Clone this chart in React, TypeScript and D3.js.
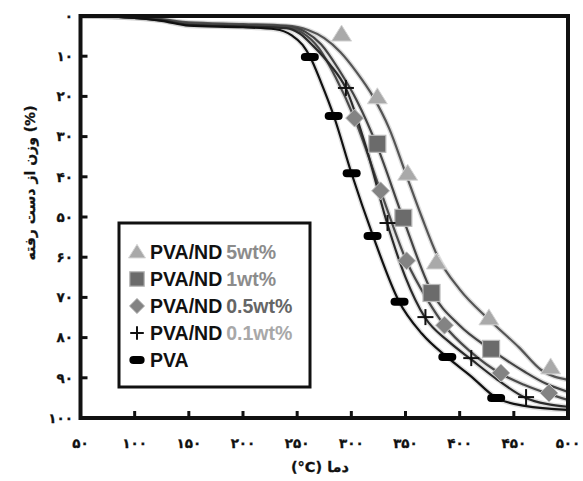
import React from 'react';
import * as d3 from 'd3';

type P = [number, number];

const xTicks = [50, 100, 150, 200, 250, 300, 350, 400, 450, 500];
const yTicks = [0, 10, 20, 30, 40, 50, 60, 70, 80, 90, 100];

const nd5Line: P[] = [[50,0],[100,0.3],[125,0.8],[150,1.6],[200,2],[240,2.4],[260,3.5],[275,5.5],[290,9],[305,14],[320,20],[335,28],[350,39],[365,50],[380,60],[400,68],[427,75.5],[455,82.5],[475,88],[500,90.5]];
const nd5Marks: P[] = [[291,4.5],[324,20.1],[352,39.1],[378.5,61.2],[427,75.1],[484,87.3]];

const nd1Line: P[] = [[50,0],[100,0.3],[125,0.9],[150,1.8],[200,2.2],[240,2.6],[258,4],[272,7],[290,14],[305,21],[324,32.5],[348,50.5],[374,68.5],[400,77],[429,83],[460,88.5],[480,91.5],[500,93.5]];
const nd1Marks: P[] = [[324,31.8],[348,50.2],[374,68.9],[429,82.8]];

const nd05Line: P[] = [[50,0],[100,0.4],[125,1],[150,2],[200,2.4],[240,2.8],[255,4.2],[270,8],[285,15],[303,25.5],[327,43.5],[351,61],[370,70.5],[386,77],[410,83.5],[438,89],[460,91.8],[482,94],[500,95.5]];
const nd05Marks: P[] = [[303,25.4],[327,43.5],[351,60.9],[386,76.9],[438,88.8],[482.5,93.8]];

const nd01Line: P[] = [[50,0],[100,0.5],[125,1.1],[150,2.2],[200,2.6],[240,3],[252,4.3],[265,7.5],[280,12],[295,18],[314,33],[333,51.5],[350,65],[368,75],[390,81],[411,85.5],[435,90.5],[461,95],[480,96.5],[500,97.2]];
const nd01Marks: P[] = [[295,17.9],[333.4,51.5],[368.4,74.9],[410.7,85.1],[461.3,94.8]];

const pvaLine: P[] = [[50,0],[100,0.5],[125,1.2],[150,2.4],[200,2.8],[230,3.3],[245,4.8],[255,7.2],[262,10.2],[272,16.5],[284,25],[300,39],[320,54.7],[344,71],[365,79],[389,85],[410,89.5],[434,95],[460,97],[500,98]];
const pvaMarks: P[] = [[261.7,10.2],[283.7,24.9],[300.3,39.1],[319.6,54.7],[344.5,71.1],[388.6,84.8],[433.7,95]];

const legendNames = ['PVA/ND', 'PVA/ND', 'PVA/ND', 'PVA/ND', 'PVA'];
const legendSuffix = ['5wt%', '1wt%', '0.5wt%', '0.1wt%', ''];

const xLabel = '(°C) دما';
const yLabel = 'وزن از دست رفته (%)';

const fa = (n: number) => String(n).replace(/\d/g, (d) => '۰۱۲۳۴۵۶۷۸۹'[+d]);

type Shape = 'triangle' | 'square' | 'diamond' | 'plus' | 'dash';

const series: { line: P[]; marks: P[]; shape: Shape; stroke: string; suffixColor: string }[] = [
  { line: nd5Line, marks: nd5Marks, shape: 'triangle', stroke: '#555', suffixColor: '#8c8c8c' },
  { line: nd1Line, marks: nd1Marks, shape: 'square', stroke: '#444', suffixColor: '#8c8c8c' },
  { line: nd05Line, marks: nd05Marks, shape: 'diamond', stroke: '#4a4a4a', suffixColor: '#666' },
  { line: nd01Line, marks: nd01Marks, shape: 'plus', stroke: '#2a2a2a', suffixColor: '#a8a8a8' },
  { line: pvaLine, marks: pvaMarks, shape: 'dash', stroke: '#111', suffixColor: '#000' },
];

function Marker({ shape, cx, cy, s = 1 }: { shape: Shape; cx: number; cy: number; s?: number }) {
  if (shape === 'triangle') {
    return <path d={`M${cx},${cy - 9 * s}L${cx + 10 * s},${cy + 7 * s}L${cx - 10 * s},${cy + 7 * s}Z`} fill="#a9a9a9" stroke="#d6d6d6" strokeWidth={1} />;
  }
  if (shape === 'square') {
    const h = 8.5 * s;
    return <rect x={cx - h} y={cy - h} width={2 * h} height={2 * h} fill="#6b6b6b" stroke="#b8b8b8" strokeWidth={1.2} />;
  }
  if (shape === 'diamond') {
    const h = 9 * s;
    return <path d={`M${cx},${cy - h}L${cx + h},${cy}L${cx},${cy + h}L${cx - h},${cy}Z`} fill="#838383" stroke="#c4c4c4" strokeWidth={1} />;
  }
  if (shape === 'plus') {
    const h = 8 * s;
    return (
      <g stroke="#111" strokeWidth={2}>
        <line x1={cx - h} x2={cx + h} y1={cy} y2={cy} />
        <line x1={cx} x2={cx} y1={cy - h} y2={cy + h} />
      </g>
    );
  }
  return <rect x={cx - 9 * s} y={cy - 4} width={18 * s} height={8} rx={4} fill="#000" />;
}

export default function App() {
  const x = d3.scaleLinear().domain([50, 500]).range([80.5, 568]);
  const y = d3.scaleLinear().domain([0, 100]).range([16, 418]);
  const line = d3
    .line<P>()
    .x((d) => x(d[0]))
    .y((d) => y(d[1]))
    .curve(d3.curveMonotoneX);

  const [x0, x1] = x.range();
  const [y0, y1] = y.range();

  return (
    <svg width={583} height={481} style={{ position: 'absolute', left: 0, top: 0, background: '#fff' }}>
      <defs>
        <clipPath id="plot">
          <rect x={x0} y={y0} width={x1 - x0} height={y1 - y0} />
        </clipPath>
      </defs>
      <rect width={583} height={481} fill="#fff" />
      <g clipPath="url(#plot)">
        {series.map((s, i) => (
          <path key={'h' + i} d={line(s.line) || ''} fill="none" stroke="#c4c4c4" strokeWidth={5} opacity={0.55} />
        ))}
        {series.map((s, i) => (
          <path key={'l' + i} d={line(s.line) || ''} fill="none" stroke={s.stroke} strokeWidth={2.2} />
        ))}
      </g>
      {series.map((s, i) => (
        <g key={'m' + i}>
          {s.marks.map((m, j) => (
            <Marker key={j} shape={s.shape} cx={x(m[0])} cy={y(m[1])} />
          ))}
        </g>
      ))}
      <g stroke="#111" strokeWidth={3}>
        {yTicks.slice(1, -1).map((t) => (
          <line key={'yt' + t} x1={x0} x2={x0 + 7} y1={y(t)} y2={y(t)} />
        ))}
        {xTicks.slice(1, -1).map((t) => (
          <line key={'xt' + t} x1={x(t)} x2={x(t)} y1={y1} y2={y1 - 7} />
        ))}
      </g>
      <rect x={x0} y={y0} width={x1 - x0} height={y1 - y0} fill="none" stroke="#111" strokeWidth={4} />
      <g fontFamily="'DejaVu Sans', sans-serif" fontWeight="bold" fontSize={13.5} fill="#111" stroke="#111" strokeWidth={0.3}>
        {yTicks.map((t) => (
          <text key={'yl' + t} x={73} y={y(t)} dy="0.35em" textAnchor="end">
            {fa(t)}
          </text>
        ))}
        {xTicks.map((t) => (
          <text key={'xl' + t} x={x(t)} y={443} dy="0.35em" textAnchor="middle">
            {fa(t)}
          </text>
        ))}
      </g>
      <text x={320} y={467} dy="0.35em" textAnchor="middle" fontFamily="'DejaVu Sans', sans-serif" fontWeight="bold" fontSize={14.5} fill="#111" stroke="#111" strokeWidth={0.3}>
        {xLabel}
      </text>
      <text transform="translate(30,183) rotate(-90)" textAnchor="middle" dy="0.35em" fontFamily="'DejaVu Sans', sans-serif" fontWeight="bold" fontSize={14} fill="#111" stroke="#111" strokeWidth={0.3}>
        {yLabel}
      </text>
      <rect x={119} y={223} width={191} height={164} fill="#fff" stroke="#111" strokeWidth={3} />
      {series.map((s, i) => {
        const cy = 252 + i * 27;
        return (
          <g key={'lg' + i}>
            <Marker shape={s.shape} cx={137} cy={cy} s={0.85} />
            <text x={150} y={cy} dy="0.36em" fontFamily="'Liberation Sans', Arial, sans-serif" fontWeight="bold" fontSize={19.5} fill="#111">
              {legendNames[i]}
              {legendSuffix[i] ? (
                <tspan fill={s.suffixColor} dx={4}>
                  {legendSuffix[i]}
                </tspan>
              ) : null}
            </text>
          </g>
        );
      })}
    </svg>
  );
}
